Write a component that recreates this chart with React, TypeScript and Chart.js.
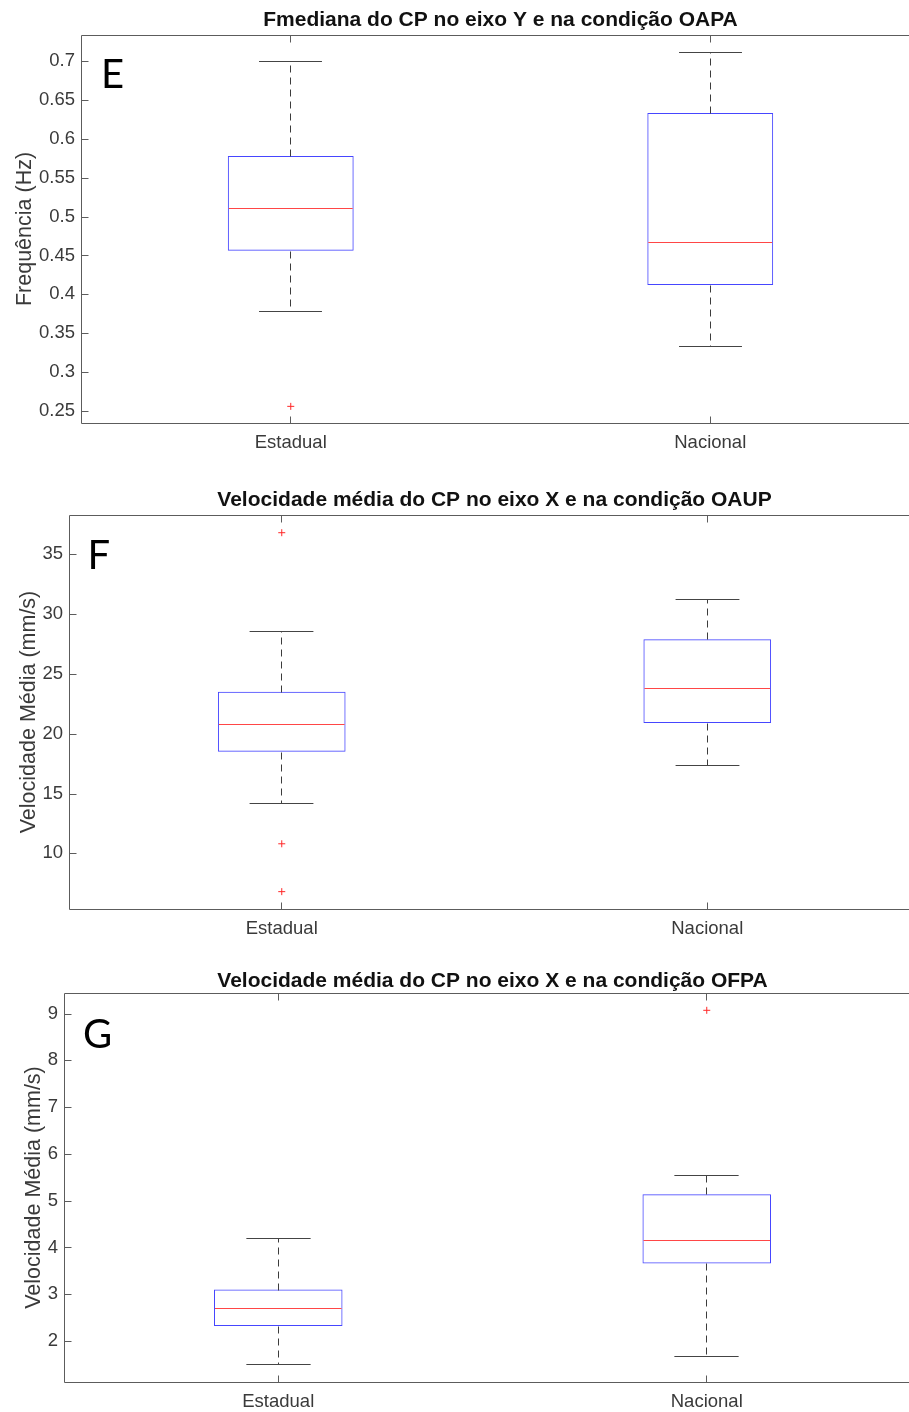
import React, { useEffect, useRef } from 'react';
import { Chart, registerables } from 'chart.js';
Chart.register(...registerables);

// ---------- data ----------
const groups = ['Estadual', 'Nacional'];

// Panel E: Fmediana do CP no eixo Y (OAPA)
const eLow = [0.378, 0.334];
const eQ1 = [0.456, 0.412];
const eMedian = [0.511, 0.467];
const eQ3 = [0.578, 0.633];
const eHigh = [0.700, 0.711];
const eOutliers = [[0.256], []];
const eRange = [0.2346, 0.7334];
const eStep = 0.05;

// Panel F: Velocidade média X (OAUP)
const fLow = [14.2, 17.4];
const fQ1 = [18.5, 20.9];
const fMedian = [20.8, 23.8];
const fQ3 = [23.5, 27.9];
const fHigh = [28.6, 31.3];
const fOutliers = [[36.8, 10.8, 6.8], []];
const fRange = [5.35, 38.28];
const fStep = 5;

// Panel G: Velocidade média X (OFPA)
const gLow = [1.50, 1.69];
const gQ1 = [2.32, 3.66];
const gMedian = [2.70, 4.15];
const gQ3 = [3.10, 5.14];
const gHigh = [4.20, 5.56];
const gOutliers = [[], [9.07]];
const gRange = [1.125, 9.44];
const gStep = 1;

const FONT = "'Liberation Sans', Arial, Helvetica, sans-serif";
const TEXT = '#3a3a3a';
const AXIS = '#5c5c5c';
const BOX = 'rgb(70,70,255)';
const MED = 'rgb(255,70,70)';

interface PanelCfg {
  top: number; height: number; width: number;
  left: number; right: number; areaTop: number; areaBottom: number;
  title: string; titleBaseline: number;
  yTitle: string; yTitlePad: number;
  letter: string; letterX: number; letterBaseline: number;
  range: number[]; step: number;
  low: number[]; q1: number[]; med: number[]; q3: number[]; high: number[];
  outliers: number[][];
}

const panels: PanelCfg[] = [
  {
    top: 0, height: 460, width: 930, left: 81, right: 920, areaTop: 35, areaBottom: 423,
    title: 'Fmediana do CP no eixo Y e na condição OAPA', titleBaseline: 26,
    yTitle: 'Frequência (Hz)', yTitlePad: 12,
    letter: 'E', letterX: 101, letterBaseline: 88,
    range: eRange, step: eStep,
    low: eLow, q1: eQ1, med: eMedian, q3: eQ3, high: eHigh, outliers: eOutliers,
  },
  {
    top: 470, height: 480, width: 930, left: 69, right: 920, areaTop: 45, areaBottom: 439,
    title: 'Velocidade média do CP no eixo X e na condição OAUP', titleBaseline: 35.5,
    yTitle: 'Velocidade Média (mm/s)', yTitlePad: 16.5,
    letter: 'F', letterX: 87.5, letterBaseline: 99,
    range: fRange, step: fStep,
    low: fLow, q1: fQ1, med: fMedian, q3: fQ3, high: fHigh, outliers: fOutliers,
  },
  {
    top: 950, height: 462, width: 930, left: 64, right: 921, areaTop: 43, areaBottom: 432,
    title: 'Velocidade média do CP no eixo X e na condição OFPA', titleBaseline: 37,
    yTitle: 'Velocidade Média (mm/s)', yTitlePad: 21,
    letter: 'G', letterX: 83, letterBaseline: 97.5,
    range: gRange, step: gStep,
    low: gLow, q1: gQ1, med: gMedian, q3: gQ3, high: gHigh, outliers: gOutliers,
  },
];

function fmt(v: number) {
  return String(Number(v.toFixed(4)));
}

function makePlugin(cfg: PanelCfg) {
  return {
    id: 'boxplotExtras',
    afterDatasetsDraw(chart: any) {
      const ctx = chart.ctx as CanvasRenderingContext2D;
      const y = chart.scales.y;
      const meta = chart.getDatasetMeta(0);
      ctx.save();
      meta.data.forEach((bar: any, i: number) => {
        const cx = Math.floor(bar.x) + 0.5;
        const half = bar.width / 2;
        const py = (v: number) => Math.round(y.getPixelForValue(v)) + 0.5;
        // whiskers (dashed)
        ctx.strokeStyle = '#3c3c3c';
        ctx.lineWidth = 1;
        ctx.setLineDash([7, 5]);
        ctx.beginPath();
        ctx.moveTo(cx, py(cfg.q3[i]));
        ctx.lineTo(cx, py(cfg.high[i]));
        ctx.moveTo(cx, py(cfg.q1[i]));
        ctx.lineTo(cx, py(cfg.low[i]));
        ctx.stroke();
        ctx.setLineDash([]);
        // caps
        ctx.strokeStyle = '#444';
        ctx.beginPath();
        ctx.moveTo(cx - half / 2, py(cfg.high[i]));
        ctx.lineTo(cx + half / 2, py(cfg.high[i]));
        ctx.moveTo(cx - half / 2, py(cfg.low[i]));
        ctx.lineTo(cx + half / 2, py(cfg.low[i]));
        ctx.stroke();
        // median
        ctx.strokeStyle = MED;
        ctx.beginPath();
        ctx.moveTo(bar.x - half + 1, py(cfg.med[i]));
        ctx.lineTo(bar.x + half - 1, py(cfg.med[i]));
        ctx.stroke();
      });
      ctx.restore();
    },
    afterDraw(chart: any) {
      const ctx = chart.ctx as CanvasRenderingContext2D;
      const { left, right, top, bottom } = chart.chartArea;
      const L = Math.floor(left) + 0.5;
      const B = Math.floor(bottom) + 0.5;
      const T = Math.floor(top) + 0.5;
      const R = Math.floor(right) + 0.5;
      ctx.save();
      ctx.strokeStyle = AXIS;
      ctx.lineWidth = 1;
      ctx.beginPath();
      ctx.moveTo(L, T); ctx.lineTo(R, T); ctx.lineTo(R, B); ctx.lineTo(L, B); ctx.closePath();
      ctx.stroke();
      // inward ticks
      const ys = chart.scales.y;
      ctx.beginPath();
      ys.ticks.forEach((t: any) => {
        const p = Math.round(ys.getPixelForValue(t.value)) + 0.5;
        ctx.moveTo(L, p); ctx.lineTo(L + 7, p);
        ctx.moveTo(R, p); ctx.lineTo(R - 7, p);
      });
      const xs = chart.scales.x;
      groups.forEach((_, i) => {
        const p = Math.floor(xs.getPixelForValue(i)) + 0.5;
        ctx.moveTo(p, B); ctx.lineTo(p, B - 7);
        ctx.moveTo(p, T); ctx.lineTo(p, T + 7);
      });
      ctx.stroke();
      // title
      ctx.fillStyle = '#111';
      ctx.font = `bold 21px ${FONT}`;
      ctx.textAlign = 'center';
      ctx.textBaseline = 'alphabetic';
      ctx.fillText(cfg.title, (left + right) / 2, cfg.titleBaseline);
      // panel letter
      ctx.fillStyle = '#000';
      ctx.font = `40px Lato, 'Open Sans', sans-serif`;
      ctx.textAlign = 'left';
      ctx.fillText(cfg.letter, cfg.letterX, cfg.letterBaseline);
      ctx.restore();
    },
  };
}

function Panel({ cfg }: { cfg: PanelCfg }) {
  const ref = useRef<HTMLCanvasElement>(null);
  useEffect(() => {
    if (!ref.current) return;
    const outlierPts = cfg.outliers.flatMap((arr, i) => arr.map((v) => ({ x: groups[i], y: v })));
    const chart = new Chart(ref.current, {
      type: 'bar',
      data: {
        labels: groups,
        datasets: [
          {
            type: 'bar',
            data: groups.map((_, i) => [cfg.q1[i], cfg.q3[i]]) as any,
            backgroundColor: 'rgba(0,0,0,0)',
            borderColor: BOX,
            borderWidth: 1,
            borderSkipped: false,
            barPercentage: 0.3,
            categoryPercentage: 1,
          } as any,
          {
            type: 'scatter',
            data: outlierPts as any,
            pointStyle: 'cross',
            pointRadius: 3.5,
            borderColor: 'rgb(255,40,40)',
            backgroundColor: 'rgb(255,40,40)',
            borderWidth: 1,
          } as any,
        ],
      },
      options: {
        responsive: false,
        animation: false,
        events: [],
        layout: { padding: { top: cfg.areaTop, right: cfg.width - cfg.right, left: 0, bottom: 0 } },
        plugins: {
          legend: { display: false },
          tooltip: { enabled: false },
          title: { display: false },
        },
        scales: {
          x: {
            type: 'category',
            offset: true,
            grid: { display: false, drawTicks: false },
            border: { display: false },
            ticks: { font: { family: FONT, size: 18.5 }, color: TEXT, padding: 9 },
            afterFit: (s: any) => { s.height = cfg.height - cfg.areaBottom; },
          },
          y: {
            type: 'linear',
            min: cfg.range[0],
            max: cfg.range[1],
            grid: { display: false, drawTicks: false },
            border: { display: false },
            ticks: {
              stepSize: cfg.step,
              includeBounds: false,
              font: { family: FONT, size: 18.5 },
              color: TEXT,
              padding: 6,
              callback: (v: any) => fmt(Number(v)),
            },
            title: {
              display: true,
              text: cfg.yTitle,
              font: { family: FONT, size: 21.5 },
              color: TEXT,
              padding: { top: cfg.yTitlePad, bottom: 0 },
            },
            afterFit: (s: any) => { s.width = cfg.left; },
          },
        },
      } as any,
      plugins: [makePlugin(cfg)],
    });
    return () => chart.destroy();
  }, [cfg]);
  return (
    <canvas
      ref={ref}
      width={cfg.width}
      height={cfg.height}
      style={{ position: 'absolute', left: 0, top: cfg.top, width: cfg.width, height: cfg.height }}
    />
  );
}

export default function App() {
  return (
    <div
      style={{
        position: 'absolute', left: 0, top: 0, width: 909, height: 1412,
        overflow: 'hidden', background: '#fff',
      }}
    >
      {panels.map((p, i) => <Panel key={i} cfg={p} />)}
    </div>
  );
}
